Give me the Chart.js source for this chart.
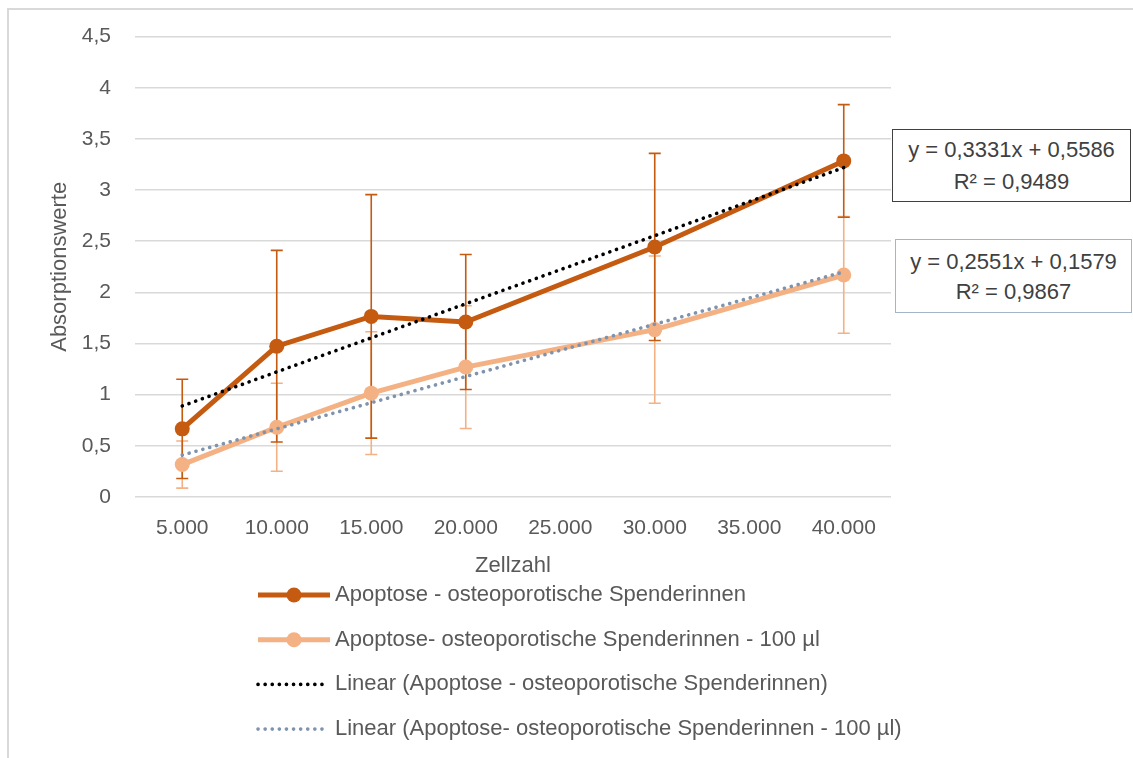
<!DOCTYPE html>
<html>
<head>
<meta charset="utf-8">
<script src="https://cdn.jsdelivr.net/npm/chart.js@4"></script>
<style>
  html, body { margin: 0; padding: 0; background: #fff; }
  body { width: 1133px; height: 758px; position: relative; overflow: hidden; font-family: 'Liberation Sans', Arial, sans-serif; }
  #frame { position: absolute; left: 7px; top: 8px; width: 1140px; height: 770px; border: 2px solid #D9D9D9; box-sizing: border-box; }
  #chart { position: absolute; left: 0; top: 0; }
  .eq { position: absolute; background: #fff; color: #404040; font-size: 22px; text-align: center; box-sizing: border-box; white-space: nowrap; }
  #eq1 { left: 892px; top: 129px; width: 239px; height: 73px; border: 1.5px solid #404040; line-height: 31.6px; padding-top: 4px; }
  #eq2 { left: 895px; top: 239px; width: 237px; height: 74px; border: 1.5px solid #A3B5CB; line-height: 29.6px; padding-top: 7px; }
</style>
</head>
<body>
<div id="frame"></div>
<canvas id="chart" width="1133" height="758"></canvas>
<div class="eq" id="eq1">y = 0,3331x + 0,5586<br>R² = 0,9489</div>
<div class="eq" id="eq2">y = 0,2551x + 0,1579<br>R² = 0,9867</div>
<script>
// values
const labels = ['5.000', '10.000', '15.000', '20.000', '25.000', '30.000', '35.000', '40.000'];
const apoptose = [0.666, 1.474, 1.765, 1.71, null, 2.444, null, 3.285];
const apoptoseErr = [0.485, 0.937, 1.19, 0.66, null, 0.915, null, 0.55];
const apoptose100 = [0.317, 0.682, 1.015, 1.27, null, 1.636, null, 2.17];
const apoptose100Err = [0.23, 0.43, 0.6, 0.6, null, 0.72, null, 0.57];
// trendline ends as shown in the chart
const trendApoptose = [0.89, null, null, null, null, null, null, 3.22];
const trendApoptose100 = [0.41, null, null, null, null, null, null, 2.2];
const yTicks = [0, 0.5, 1, 1.5, 2, 2.5, 3, 3.5, 4, 4.5];

const dark = '#C55A11';
const light = '#F4B183';
const textGray = '#595959';
const FONT = "'Liberation Sans', Arial, sans-serif";

const errorBars = {
  id: 'errorBars',
  beforeDatasetsDraw(chart) {
    const { ctx, scales: { y } } = chart;
    [1, 0].forEach(di => {
      const ds = chart.data.datasets[di];
      const meta = chart.getDatasetMeta(di);
      ctx.save();
      ctx.strokeStyle = ds.borderColor;
      ctx.lineWidth = 1.6;
      ds.errors.forEach((e, i) => {
        const v = ds.data[i];
        if (v == null || e == null) return;
        const px = meta.data[i].x;
        const top = y.getPixelForValue(v + e);
        const bot = y.getPixelForValue(v - e);
        ctx.beginPath();
        ctx.moveTo(px, top); ctx.lineTo(px, bot);
        ctx.moveTo(px - 6, top); ctx.lineTo(px + 6, top);
        ctx.moveTo(px - 6, bot); ctx.lineTo(px + 6, bot);
        ctx.stroke();
      });
      ctx.restore();
    });
  }
};

const legendRows = {
  id: 'legendRows',
  afterDraw(chart) {
    const { ctx, chartArea } = chart;
    const x0 = 258, x1 = 330, tx = 335;
    let yy = chartArea.bottom + 98;
    chart.data.datasets.forEach(ds => {
      ctx.save();
      ctx.strokeStyle = ds.borderColor;
      ctx.lineWidth = ds.borderWidth;
      ctx.setLineDash(ds.borderDash || []);
      ctx.lineCap = ds.borderCapStyle || 'butt';
      ctx.beginPath();
      ctx.moveTo(x0, yy); ctx.lineTo(ds.pointRadius ? x1 : x1 - 2, yy);
      ctx.stroke();
      if (ds.pointRadius) {
        ctx.setLineDash([]);
        ctx.fillStyle = ds.pointBackgroundColor;
        ctx.beginPath();
        ctx.arc((x0 + x1) / 2, yy, ds.pointRadius, 0, Math.PI * 2);
        ctx.fill();
      }
      ctx.fillStyle = textGray;
      ctx.font = '22px ' + FONT;
      ctx.textBaseline = 'middle';
      ctx.fillText(ds.label, tx, yy);
      ctx.restore();
      yy += 44.7;
    });
  }
};

new Chart(document.getElementById('chart'), {
  type: 'line',
  data: {
    labels: labels,
    datasets: [
      {
        label: 'Apoptose - osteoporotische Spenderinnen',
        data: apoptose,
        errors: apoptoseErr,
        borderColor: dark,
        backgroundColor: dark,
        pointBackgroundColor: dark,
        pointBorderWidth: 0,
        pointRadius: 7.5,
        borderWidth: 5,
        spanGaps: true,
        order: 2
      },
      {
        label: 'Apoptose- osteoporotische Spenderinnen - 100 µl',
        data: apoptose100,
        errors: apoptose100Err,
        borderColor: light,
        backgroundColor: light,
        pointBackgroundColor: light,
        pointBorderWidth: 0,
        pointRadius: 7.5,
        borderWidth: 5,
        spanGaps: true,
        order: 3
      },
      {
        label: 'Linear (Apoptose - osteoporotische Spenderinnen)',
        data: trendApoptose,
        borderColor: '#000000',
        borderWidth: 3.6,
        borderDash: [0.1, 7],
        borderCapStyle: 'round',
        pointRadius: 0,
        spanGaps: true,
        order: 0
      },
      {
        label: 'Linear (Apoptose- osteoporotische Spenderinnen - 100 µl)',
        data: trendApoptose100,
        borderColor: '#7F93AD',
        borderWidth: 3.6,
        borderDash: [0.1, 7],
        borderCapStyle: 'round',
        pointRadius: 0,
        spanGaps: true,
        order: 1
      }
    ]
  },
  options: {
    responsive: false,
    animation: false,
    layout: { padding: { left: 47, top: 33, right: 242, bottom: 758 - 497 - 82 } },
    plugins: { legend: { display: false }, tooltip: { enabled: false } },
    elements: { line: { tension: 0 } },
    scales: {
      x: {
        type: 'category',
        offset: true,
        grid: { display: false, drawTicks: false },
        border: { display: false },
        ticks: { color: textGray, font: { family: FONT, size: 21 }, padding: 19, maxRotation: 0, autoSkip: false },
        title: { display: true, text: 'Zellzahl', color: textGray, font: { family: FONT, size: 22 }, padding: 0 },
        afterFit(scale) { scale.height = 82; }
      },
      y: {
        min: 0,
        max: 4.5,
        afterBuildTicks(scale) { scale.ticks = yTicks.map(v => ({ value: v })); },
        grid: { color: '#D9D9D9', lineWidth: 1.5, drawTicks: false },
        border: { display: false },
        ticks: {
          color: textGray,
          font: { family: FONT, size: 21 },
          padding: 24,
          callback: v => String(v).replace('.', ',')
        },
        title: { display: true, text: 'Absorptionswerte', color: textGray, font: { family: FONT, size: 22 }, padding: 0 },
        afterFit(scale) { scale.width = 88; }
      }
    }
  },
  plugins: [errorBars, legendRows]
});
</script>
</body>
</html>
